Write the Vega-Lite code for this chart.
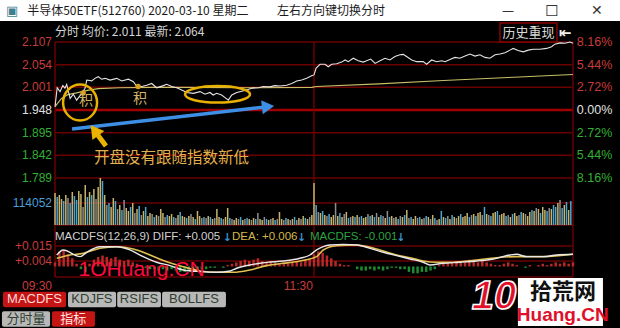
{
  "$schema": "https://vega.github.io/schema/vega-lite/v6.json",
  "background": "#000000",
  "padding": 0,
  "spacing": 0,
  "bounds": "flush",
  "config": {"view": {"stroke": null}, "text": {"font": "Liberation Sans"}},
  "resolve": {"scale": {"x": "independent", "y": "independent", "color": "independent"}},
  "datasets": {
    "levels": [
      {"p": 2.107, "lp": "2.107", "pct": "8.16%", "s": "up"},
      {"p": 2.054, "lp": "2.054", "pct": "5.44%", "s": "up"},
      {"p": 2.001, "lp": "2.001", "pct": "2.72%", "s": "up"},
      {"p": 1.948, "lp": "1.948", "pct": "0.00%", "s": "flat"},
      {"p": 1.895, "lp": "1.895", "pct": "2.72%", "s": "down"},
      {"p": 1.842, "lp": "1.842", "pct": "5.44%", "s": "down"},
      {"p": 1.789, "lp": "1.789", "pct": "8.16%", "s": "down"}
    ],
    "price": [
      {"m": 0, "p": 1.956}, {"m": 1, "p": 2.0}, {"m": 2.3, "p": 1.991}, {"m": 3.6, "p": 2.005}, {"m": 4.6, "p": 1.999},
      {"m": 5.4, "p": 2.008}, {"m": 7, "p": 1.975}, {"m": 8.5, "p": 1.985}, {"m": 10, "p": 1.971}, {"m": 12.4, "p": 1.987},
      {"m": 13.9, "p": 1.999}, {"m": 14.7, "p": 2.018}, {"m": 17, "p": 2.016}, {"m": 18.5, "p": 2.022}, {"m": 20, "p": 2.026},
      {"m": 21.6, "p": 2.02}, {"m": 23.2, "p": 2.022}, {"m": 25.5, "p": 2.018}, {"m": 28.6, "p": 2.022}, {"m": 30.9, "p": 2.016},
      {"m": 34, "p": 2.02}, {"m": 36.3, "p": 2.014}, {"m": 37.9, "p": 2.003}, {"m": 40.2, "p": 2.003}, {"m": 42.5, "p": 2.006},
      {"m": 44.8, "p": 2.01}, {"m": 47.1, "p": 2.0}, {"m": 50.2, "p": 2.005}, {"m": 51.7, "p": 2.008}, {"m": 54.1, "p": 2.003},
      {"m": 56.4, "p": 2.0}, {"m": 58.7, "p": 1.995}, {"m": 61, "p": 1.989}, {"m": 64.1, "p": 1.987}, {"m": 67.2, "p": 1.991},
      {"m": 69.5, "p": 1.985}, {"m": 71.8, "p": 1.989}, {"m": 73.3, "p": 1.983}, {"m": 74.9, "p": 1.987}, {"m": 77.2, "p": 1.983},
      {"m": 78.8, "p": 1.977}, {"m": 80.3, "p": 1.971}, {"m": 81.9, "p": 1.983}, {"m": 84.2, "p": 1.989}, {"m": 86.5, "p": 1.992},
      {"m": 88.8, "p": 1.995}, {"m": 91.1, "p": 1.999}, {"m": 94.2, "p": 2.0}, {"m": 96.5, "p": 2.003}, {"m": 99.6, "p": 2.002},
      {"m": 101.9, "p": 2.005}, {"m": 104.2, "p": 2.004}, {"m": 107.3, "p": 2.006}, {"m": 109.7, "p": 2.01}, {"m": 112, "p": 2.016},
      {"m": 114.3, "p": 2.018}, {"m": 116.6, "p": 2.022}, {"m": 118.9, "p": 2.028}, {"m": 120, "p": 2.03}, {"m": 121, "p": 2.046},
      {"m": 122.8, "p": 2.055}, {"m": 125.1, "p": 2.055}, {"m": 126.6, "p": 2.049}, {"m": 128.2, "p": 2.055}, {"m": 130.5, "p": 2.056},
      {"m": 132.8, "p": 2.06}, {"m": 134.4, "p": 2.065}, {"m": 135.9, "p": 2.061}, {"m": 138.2, "p": 2.069}, {"m": 140.5, "p": 2.063},
      {"m": 142.8, "p": 2.06}, {"m": 144.4, "p": 2.063}, {"m": 146.3, "p": 2.067}, {"m": 148.3, "p": 2.057}, {"m": 150.6, "p": 2.063},
      {"m": 152.9, "p": 2.069}, {"m": 155.2, "p": 2.065}, {"m": 157.5, "p": 2.073}, {"m": 159.8, "p": 2.077}, {"m": 161.4, "p": 2.078},
      {"m": 162.9, "p": 2.073}, {"m": 165.3, "p": 2.065}, {"m": 167.6, "p": 2.061}, {"m": 170.6, "p": 2.061}, {"m": 172.2, "p": 2.055},
      {"m": 174.5, "p": 2.065}, {"m": 176.8, "p": 2.061}, {"m": 179.2, "p": 2.063}, {"m": 180.7, "p": 2.061}, {"m": 183, "p": 2.066},
      {"m": 185.3, "p": 2.071}, {"m": 187.6, "p": 2.069}, {"m": 190, "p": 2.074}, {"m": 192.3, "p": 2.079}, {"m": 194.6, "p": 2.074},
      {"m": 196.9, "p": 2.077}, {"m": 199.2, "p": 2.071}, {"m": 201.5, "p": 2.069}, {"m": 203.9, "p": 2.077}, {"m": 206.2, "p": 2.079},
      {"m": 208.5, "p": 2.082}, {"m": 210.8, "p": 2.088}, {"m": 212.3, "p": 2.092}, {"m": 214.6, "p": 2.087}, {"m": 217, "p": 2.084},
      {"m": 219.3, "p": 2.088}, {"m": 221.6, "p": 2.09}, {"m": 224.7, "p": 2.09}, {"m": 227.8, "p": 2.092}, {"m": 230.1, "p": 2.096},
      {"m": 231.6, "p": 2.102}, {"m": 234, "p": 2.105}, {"m": 236.3, "p": 2.104}, {"m": 238.6, "p": 2.107}, {"m": 240, "p": 2.104}
    ],
    "avg": [
      {"m": 0, "a": 1.956}, {"m": 3, "a": 1.975}, {"m": 6, "a": 1.984}, {"m": 10, "a": 1.988}, {"m": 15, "a": 1.994},
      {"m": 20, "a": 1.998}, {"m": 30, "a": 2.0}, {"m": 45, "a": 2.001}, {"m": 60, "a": 2.001}, {"m": 90, "a": 2.0},
      {"m": 119, "a": 2.001}, {"m": 121, "a": 2.003}, {"m": 150, "a": 2.009}, {"m": 180, "a": 2.017}, {"m": 210, "a": 2.024},
      {"m": 240, "a": 2.031}
    ],
    "vol": [
      {"m": 0, "v": 165900, "d": "u"}, {"m": 1, "v": 145200, "d": "b"}, {"m": 2, "v": 155500, "d": "u"}, {"m": 3, "v": 134800, "d": "u"},
      {"m": 4, "v": 124400, "d": "b"}, {"m": 5, "v": 155500, "d": "u"}, {"m": 6, "v": 140000, "d": "g"}, {"m": 7, "v": 114100, "d": "b"},
      {"m": 8, "v": 171100, "d": "u"}, {"m": 9, "v": 150300, "d": "b"}, {"m": 10, "v": 129600, "d": "b"}, {"m": 11, "v": 176300, "d": "u"},
      {"m": 12, "v": 160700, "d": "u"}, {"m": 13, "v": 93300, "d": "g"}, {"m": 14, "v": 207400, "d": "u"}, {"m": 15, "v": 145200, "d": "b"},
      {"m": 16, "v": 171100, "d": "u"}, {"m": 17, "v": 155500, "d": "b"}, {"m": 18, "v": 186600, "d": "u"}, {"m": 19, "v": 134800, "d": "g"},
      {"m": 20, "v": 197000, "d": "u"}, {"m": 21, "v": 243600, "d": "u"}, {"m": 22, "v": 228100, "d": "b"}, {"m": 23, "v": 155500, "d": "u"},
      {"m": 24, "v": 103700, "d": "g"}, {"m": 25, "v": 114100, "d": "b"}, {"m": 26, "v": 93300, "d": "u"}, {"m": 27, "v": 140000, "d": "u"},
      {"m": 28, "v": 124400, "d": "b"}, {"m": 29, "v": 82900, "d": "g"}, {"m": 30, "v": 103700, "d": "u"}, {"m": 31, "v": 77800, "d": "b"},
      {"m": 32, "v": 129600, "d": "g"}, {"m": 33, "v": 88100, "d": "u"}, {"m": 34, "v": 72600, "d": "u"}, {"m": 35, "v": 93300, "d": "b"},
      {"m": 36, "v": 114100, "d": "u"}, {"m": 37, "v": 62200, "d": "g"}, {"m": 38, "v": 82900, "d": "u"}, {"m": 39, "v": 98500, "d": "b"},
      {"m": 40, "v": 51800, "d": "g"}, {"m": 41, "v": 72600, "d": "u"}, {"m": 42, "v": 93300, "d": "b"}, {"m": 43, "v": 46700, "d": "u"},
      {"m": 44, "v": 62200, "d": "u"}, {"m": 45, "v": 57000, "d": "g"}, {"m": 46, "v": 41500, "d": "b"}, {"m": 47, "v": 51800, "d": "u"},
      {"m": 48, "v": 46700, "d": "g"}, {"m": 49, "v": 82900, "d": "u"}, {"m": 50, "v": 62200, "d": "u"}, {"m": 51, "v": 41500, "d": "g"},
      {"m": 52, "v": 51800, "d": "b"}, {"m": 53, "v": 46700, "d": "u"}, {"m": 54, "v": 57000, "d": "u"}, {"m": 55, "v": 41500, "d": "b"},
      {"m": 56, "v": 36300, "d": "g"}, {"m": 57, "v": 51800, "d": "u"}, {"m": 58, "v": 67400, "d": "b"}, {"m": 59, "v": 46700, "d": "u"},
      {"m": 60, "v": 41500, "d": "u"}, {"m": 61, "v": 36300, "d": "b"}, {"m": 62, "v": 46700, "d": "u"}, {"m": 63, "v": 57000, "d": "g"},
      {"m": 64, "v": 41500, "d": "u"}, {"m": 65, "v": 31100, "d": "b"}, {"m": 66, "v": 72600, "d": "u"}, {"m": 67, "v": 46700, "d": "u"},
      {"m": 68, "v": 36300, "d": "g"}, {"m": 69, "v": 41500, "d": "b"}, {"m": 70, "v": 36300, "d": "g"}, {"m": 71, "v": 46700, "d": "u"},
      {"m": 72, "v": 41500, "d": "b"}, {"m": 73, "v": 31100, "d": "u"}, {"m": 74, "v": 36300, "d": "g"}, {"m": 75, "v": 82900, "d": "u"},
      {"m": 76, "v": 41500, "d": "u"}, {"m": 77, "v": 36300, "d": "b"}, {"m": 78, "v": 31100, "d": "g"}, {"m": 79, "v": 41500, "d": "u"},
      {"m": 80, "v": 88100, "d": "u"}, {"m": 81, "v": 36300, "d": "b"}, {"m": 82, "v": 31100, "d": "g"}, {"m": 83, "v": 25900, "d": "u"},
      {"m": 84, "v": 36300, "d": "u"}, {"m": 85, "v": 31100, "d": "g"}, {"m": 86, "v": 41500, "d": "b"}, {"m": 87, "v": 25900, "d": "u"},
      {"m": 88, "v": 31100, "d": "g"}, {"m": 89, "v": 36300, "d": "b"}, {"m": 90, "v": 31100, "d": "u"}, {"m": 91, "v": 25900, "d": "g"},
      {"m": 92, "v": 36300, "d": "u"}, {"m": 93, "v": 31100, "d": "b"}, {"m": 94, "v": 62200, "d": "g"}, {"m": 95, "v": 31100, "d": "u"},
      {"m": 96, "v": 25900, "d": "u"}, {"m": 97, "v": 41500, "d": "g"}, {"m": 98, "v": 31100, "d": "b"}, {"m": 99, "v": 25900, "d": "u"},
      {"m": 100, "v": 31100, "d": "g"}, {"m": 101, "v": 36300, "d": "u"}, {"m": 102, "v": 25900, "d": "b"}, {"m": 103, "v": 31100, "d": "g"},
      {"m": 104, "v": 67400, "d": "u"}, {"m": 105, "v": 31100, "d": "u"}, {"m": 106, "v": 25900, "d": "g"}, {"m": 107, "v": 36300, "d": "b"},
      {"m": 108, "v": 31100, "d": "u"}, {"m": 109, "v": 25900, "d": "g"}, {"m": 110, "v": 31100, "d": "u"}, {"m": 111, "v": 41500, "d": "b"},
      {"m": 112, "v": 25900, "d": "g"}, {"m": 113, "v": 36300, "d": "u"}, {"m": 114, "v": 31100, "d": "g"}, {"m": 115, "v": 46700, "d": "u"},
      {"m": 116, "v": 36300, "d": "b"}, {"m": 117, "v": 31100, "d": "u"}, {"m": 118, "v": 41500, "d": "g"}, {"m": 119, "v": 51800, "d": "u"},
      {"m": 120, "v": 217700, "d": "u"}, {"m": 121, "v": 103700, "d": "b"}, {"m": 122, "v": 67400, "d": "g"}, {"m": 123, "v": 62200, "d": "u"},
      {"m": 124, "v": 72600, "d": "b"}, {"m": 125, "v": 51800, "d": "u"}, {"m": 126, "v": 46700, "d": "g"}, {"m": 127, "v": 57000, "d": "b"},
      {"m": 128, "v": 41500, "d": "u"}, {"m": 129, "v": 51800, "d": "u"}, {"m": 130, "v": 114100, "d": "g"}, {"m": 131, "v": 46700, "d": "u"},
      {"m": 132, "v": 62200, "d": "b"}, {"m": 133, "v": 41500, "d": "u"}, {"m": 134, "v": 57000, "d": "g"}, {"m": 135, "v": 67400, "d": "u"},
      {"m": 136, "v": 36300, "d": "b"}, {"m": 137, "v": 41500, "d": "g"}, {"m": 138, "v": 46700, "d": "u"}, {"m": 139, "v": 41500, "d": "b"},
      {"m": 140, "v": 51800, "d": "u"}, {"m": 141, "v": 41500, "d": "g"}, {"m": 142, "v": 46700, "d": "b"}, {"m": 143, "v": 36300, "d": "u"},
      {"m": 144, "v": 41500, "d": "u"}, {"m": 145, "v": 57000, "d": "g"}, {"m": 146, "v": 46700, "d": "b"}, {"m": 147, "v": 51800, "d": "u"},
      {"m": 148, "v": 41500, "d": "b"}, {"m": 149, "v": 62200, "d": "g"}, {"m": 150, "v": 41500, "d": "u"}, {"m": 151, "v": 51800, "d": "b"},
      {"m": 152, "v": 46700, "d": "g"}, {"m": 153, "v": 36300, "d": "u"}, {"m": 154, "v": 72600, "d": "g"}, {"m": 155, "v": 41500, "d": "b"},
      {"m": 156, "v": 46700, "d": "u"}, {"m": 157, "v": 36300, "d": "g"}, {"m": 158, "v": 41500, "d": "u"}, {"m": 159, "v": 31100, "d": "b"},
      {"m": 160, "v": 46700, "d": "g"}, {"m": 161, "v": 41500, "d": "u"}, {"m": 162, "v": 51800, "d": "b"}, {"m": 163, "v": 77800, "d": "u"},
      {"m": 164, "v": 36300, "d": "g"}, {"m": 165, "v": 41500, "d": "b"}, {"m": 166, "v": 31100, "d": "u"}, {"m": 167, "v": 46700, "d": "u"},
      {"m": 168, "v": 36300, "d": "g"}, {"m": 169, "v": 41500, "d": "b"}, {"m": 170, "v": 31100, "d": "u"}, {"m": 171, "v": 36300, "d": "g"},
      {"m": 172, "v": 46700, "d": "b"}, {"m": 173, "v": 41500, "d": "u"}, {"m": 174, "v": 31100, "d": "g"}, {"m": 175, "v": 51800, "d": "u"},
      {"m": 176, "v": 36300, "d": "b"}, {"m": 177, "v": 25900, "d": "g"}, {"m": 178, "v": 31100, "d": "u"}, {"m": 179, "v": 72600, "d": "b"},
      {"m": 180, "v": 41500, "d": "u"}, {"m": 181, "v": 36300, "d": "b"}, {"m": 182, "v": 46700, "d": "g"}, {"m": 183, "v": 31100, "d": "u"},
      {"m": 184, "v": 51800, "d": "b"}, {"m": 185, "v": 41500, "d": "u"}, {"m": 186, "v": 36300, "d": "g"}, {"m": 187, "v": 46700, "d": "u"},
      {"m": 188, "v": 57000, "d": "b"}, {"m": 189, "v": 41500, "d": "u"}, {"m": 190, "v": 46700, "d": "u"}, {"m": 191, "v": 62200, "d": "u"},
      {"m": 192, "v": 41500, "d": "b"}, {"m": 193, "v": 51800, "d": "g"}, {"m": 194, "v": 57000, "d": "u"}, {"m": 195, "v": 46700, "d": "b"},
      {"m": 196, "v": 62200, "d": "u"}, {"m": 197, "v": 67400, "d": "u"}, {"m": 198, "v": 51800, "d": "g"}, {"m": 199, "v": 93300, "d": "b"},
      {"m": 200, "v": 57000, "d": "u"}, {"m": 201, "v": 51800, "d": "g"}, {"m": 202, "v": 46700, "d": "b"}, {"m": 203, "v": 62200, "d": "u"},
      {"m": 204, "v": 67400, "d": "u"}, {"m": 205, "v": 72600, "d": "b"}, {"m": 206, "v": 51800, "d": "g"}, {"m": 207, "v": 57000, "d": "u"},
      {"m": 208, "v": 62200, "d": "u"}, {"m": 209, "v": 46700, "d": "b"}, {"m": 210, "v": 51800, "d": "g"}, {"m": 211, "v": 41500, "d": "u"},
      {"m": 212, "v": 57000, "d": "b"}, {"m": 213, "v": 62200, "d": "u"}, {"m": 214, "v": 46700, "d": "u"}, {"m": 215, "v": 51800, "d": "g"},
      {"m": 216, "v": 67400, "d": "b"}, {"m": 217, "v": 62200, "d": "u"}, {"m": 218, "v": 57000, "d": "g"}, {"m": 219, "v": 46700, "d": "u"},
      {"m": 220, "v": 67400, "d": "u"}, {"m": 221, "v": 77800, "d": "b"}, {"m": 222, "v": 72600, "d": "u"}, {"m": 223, "v": 88100, "d": "g"},
      {"m": 224, "v": 82900, "d": "u"}, {"m": 225, "v": 62200, "d": "b"}, {"m": 226, "v": 93300, "d": "u"}, {"m": 227, "v": 77800, "d": "u"},
      {"m": 228, "v": 72600, "d": "b"}, {"m": 229, "v": 88100, "d": "g"}, {"m": 230, "v": 82900, "d": "u"}, {"m": 231, "v": 103700, "d": "b"},
      {"m": 232, "v": 93300, "d": "b"}, {"m": 233, "v": 114100, "d": "u"}, {"m": 234, "v": 129600, "d": "g"}, {"m": 235, "v": 88100, "d": "b"},
      {"m": 236, "v": 103700, "d": "u"}, {"m": 237, "v": 119200, "d": "b"}, {"m": 238, "v": 77800, "d": "u"}, {"m": 239, "v": 124400, "d": "b"}
    ],
    "hist": [
      {"m": 0, "h": 0.003}, {"m": 2, "h": 0.011}, {"m": 4, "h": 0.012}, {"m": 6, "h": 0.009}, {"m": 8, "h": 0.006}, {"m": 10, "h": 0.002},
      {"m": 12, "h": -0.002}, {"m": 14, "h": -0.004}, {"m": 16, "h": 0.002}, {"m": 18, "h": 0.005}, {"m": 20, "h": 0.007}, {"m": 22, "h": 0.008},
      {"m": 24, "h": 0.007}, {"m": 26, "h": 0.006}, {"m": 28, "h": 0.007}, {"m": 30, "h": 0.005}, {"m": 32, "h": 0.004}, {"m": 34, "h": 0.005},
      {"m": 36, "h": 0.003}, {"m": 38, "h": 0.002}, {"m": 40, "h": 0.001}, {"m": 42, "h": -0.001}, {"m": 44, "h": -0.002}, {"m": 46, "h": -0.002},
      {"m": 48, "h": -0.003}, {"m": 50, "h": -0.002}, {"m": 52, "h": -0.003}, {"m": 54, "h": -0.002}, {"m": 56, "h": -0.003}, {"m": 58, "h": -0.004},
      {"m": 60, "h": -0.004}, {"m": 62, "h": -0.003}, {"m": 64, "h": -0.004}, {"m": 66, "h": -0.003}, {"m": 68, "h": -0.002}, {"m": 70, "h": -0.002},
      {"m": 72, "h": -0.001}, {"m": 74, "h": -0.001}, {"m": 76, "h": 0}, {"m": 78, "h": -0.001}, {"m": 80, "h": 0.001}, {"m": 82, "h": 0.002},
      {"m": 84, "h": 0.003}, {"m": 86, "h": 0.004}, {"m": 88, "h": 0.005}, {"m": 90, "h": 0.004}, {"m": 92, "h": 0.005}, {"m": 94, "h": 0.006},
      {"m": 96, "h": 0.004}, {"m": 98, "h": 0.003}, {"m": 100, "h": 0.004}, {"m": 102, "h": 0.003}, {"m": 104, "h": 0.002}, {"m": 106, "h": 0.003},
      {"m": 108, "h": 0.002}, {"m": 110, "h": 0.003}, {"m": 112, "h": 0.004}, {"m": 114, "h": 0.003}, {"m": 116, "h": 0.005}, {"m": 118, "h": 0.006},
      {"m": 120, "h": 0.009}, {"m": 122, "h": 0.011}, {"m": 124, "h": 0.01}, {"m": 126, "h": 0.008}, {"m": 128, "h": 0.006}, {"m": 130, "h": 0.004},
      {"m": 132, "h": 0.002}, {"m": 134, "h": 0.001}, {"m": 136, "h": 0.001}, {"m": 138, "h": 0}, {"m": 140, "h": -0.002}, {"m": 142, "h": -0.003},
      {"m": 144, "h": -0.003}, {"m": 146, "h": -0.002}, {"m": 148, "h": -0.003}, {"m": 150, "h": -0.002}, {"m": 152, "h": -0.003}, {"m": 154, "h": -0.002},
      {"m": 156, "h": -0.001}, {"m": 158, "h": -0.001}, {"m": 160, "h": -0.002}, {"m": 162, "h": -0.002}, {"m": 164, "h": -0.004}, {"m": 166, "h": -0.005},
      {"m": 168, "h": -0.005}, {"m": 170, "h": -0.004}, {"m": 172, "h": -0.004}, {"m": 174, "h": -0.003}, {"m": 176, "h": -0.002}, {"m": 178, "h": 0.001},
      {"m": 180, "h": 0.002}, {"m": 182, "h": 0.003}, {"m": 184, "h": 0.003}, {"m": 186, "h": 0.004}, {"m": 188, "h": 0.003}, {"m": 190, "h": 0.004},
      {"m": 192, "h": 0.005}, {"m": 194, "h": 0.004}, {"m": 196, "h": 0.003}, {"m": 198, "h": 0.004}, {"m": 200, "h": 0.003}, {"m": 202, "h": 0.002},
      {"m": 204, "h": 0.001}, {"m": 206, "h": 0.001}, {"m": 208, "h": 0.002}, {"m": 210, "h": 0.003}, {"m": 212, "h": 0.002}, {"m": 214, "h": 0.001},
      {"m": 216, "h": 0}, {"m": 218, "h": -0.001}, {"m": 220, "h": 0.001}, {"m": 222, "h": 0}, {"m": 224, "h": 0.001}, {"m": 226, "h": 0.002},
      {"m": 228, "h": 0.001}, {"m": 230, "h": 0.002}, {"m": 232, "h": 0.003}, {"m": 234, "h": 0.002}, {"m": 236, "h": 0.003}, {"m": 238, "h": 0.002},
      {"m": 240, "h": 0.003}
    ],
    "diff": [
      {"m": 0.8, "v": 0.0084}, {"m": 3.8, "v": 0.0121}, {"m": 11.6, "v": 0.0072}, {"m": 14.7, "v": 0.0104}, {"m": 20.8, "v": 0.0145},
      {"m": 28.6, "v": 0.0145}, {"m": 34.7, "v": 0.0121}, {"m": 40.9, "v": 0.0072}, {"m": 47.1, "v": 0.0031}, {"m": 53.3, "v": 0.0006},
      {"m": 59.4, "v": -0.0026}, {"m": 67.2, "v": -0.0038}, {"m": 74.9, "v": -0.0043}, {"m": 81.1, "v": -0.0033}, {"m": 84.2, "v": -0.0013},
      {"m": 90.3, "v": 0.0011}, {"m": 98.1, "v": 0.003}, {"m": 105.8, "v": 0.004}, {"m": 113.5, "v": 0.006}, {"m": 118.1, "v": 0.0084},
      {"m": 121.2, "v": 0.0121}, {"m": 124.3, "v": 0.0145}, {"m": 127.4, "v": 0.0157}, {"m": 133.6, "v": 0.0162}, {"m": 139.8, "v": 0.0157},
      {"m": 145.9, "v": 0.0133}, {"m": 152.1, "v": 0.0104}, {"m": 158.3, "v": 0.0079}, {"m": 164.5, "v": 0.0055}, {"m": 170.6, "v": 0.0031},
      {"m": 173.7, "v": 0.0011}, {"m": 179.9, "v": 0.0023}, {"m": 187.6, "v": 0.0031}, {"m": 195.4, "v": 0.004}, {"m": 203.1, "v": 0.0055},
      {"m": 210.8, "v": 0.0084}, {"m": 213.9, "v": 0.0089}, {"m": 218.5, "v": 0.0072}, {"m": 226.2, "v": 0.0072}, {"m": 232.4, "v": 0.0084},
      {"m": 240, "v": 0.0089}
    ],
    "dea": [
      {"m": 0.8, "v": 0.006}, {"m": 6.9, "v": 0.0084}, {"m": 13.1, "v": 0.0096}, {"m": 20.8, "v": 0.0133}, {"m": 28.6, "v": 0.0145},
      {"m": 36.3, "v": 0.0128}, {"m": 44, "v": 0.0084}, {"m": 51.7, "v": 0.0035}, {"m": 59.4, "v": -0.0002}, {"m": 67.2, "v": -0.0033},
      {"m": 74.9, "v": -0.0043}, {"m": 82.6, "v": -0.0043}, {"m": 90.3, "v": -0.0026}, {"m": 98.1, "v": 0.0006}, {"m": 105.8, "v": 0.0023},
      {"m": 113.5, "v": 0.004}, {"m": 121.2, "v": 0.0072}, {"m": 124.3, "v": 0.0121}, {"m": 130.5, "v": 0.0152}, {"m": 139.8, "v": 0.0157},
      {"m": 149, "v": 0.0128}, {"m": 158.3, "v": 0.0084}, {"m": 164.5, "v": 0.0064}, {"m": 170.6, "v": 0.004}, {"m": 176.8, "v": 0.0031},
      {"m": 184.5, "v": 0.0031}, {"m": 195.4, "v": 0.0047}, {"m": 204.6, "v": 0.0064}, {"m": 213.9, "v": 0.0072}, {"m": 226.2, "v": 0.0072},
      {"m": 240, "v": 0.0089}
    ]
  },
  "vconcat": [
    {
      "width": 620, "height": 21,
      "view": {"fill": "#ffffff", "stroke": null},
      "layer": [
        {"data": {"values": [{"t": "▣"}]}, "mark": {"type": "text", "fontSize": 13, "color": "#3f7f8f", "font": "DejaVu Sans"},
         "encoding": {"x": {"datum": -19.9, "type": "quantitative", "scale": {"domain": [-25.5, 261.8]}, "axis": null}, "text": {"field": "t"}}},
        {"data": {"values": [{"t": "半导体50ETF(512760) 2020-03-10 星期二"}]}, "mark": {"type": "text", "align": "left", "fontSize": 12, "color": "#1a1a1a", "font": "Noto Sans CJK SC"},
         "encoding": {"x": {"datum": -12.9, "type": "quantitative", "scale": {"domain": [-25.5, 261.8]}, "axis": null}, "text": {"field": "t"}}},
        {"data": {"values": [{"t": "左右方向键切换分时"}]}, "mark": {"type": "text", "align": "left", "fontSize": 12, "color": "#1a1a1a", "font": "Noto Sans CJK SC"},
         "encoding": {"x": {"datum": 102.9, "type": "quantitative", "scale": {"domain": [-25.5, 261.8]}, "axis": null}, "text": {"field": "t"}}},
        {"data": {"values": [{"t": "—"}]}, "mark": {"type": "text", "fontSize": 12, "color": "#333333", "font": "DejaVu Sans"},
         "encoding": {"x": {"datum": 209.9, "type": "quantitative", "scale": {"domain": [-25.5, 261.8]}, "axis": null}, "text": {"field": "t"}}},
        {"data": {"values": [{"t": "☐"}]}, "mark": {"type": "text", "fontSize": 15, "color": "#333333", "font": "DejaVu Sans"},
         "encoding": {"x": {"datum": 230.3, "type": "quantitative", "scale": {"domain": [-25.5, 261.8]}, "axis": null}, "text": {"field": "t"}}},
        {"data": {"values": [{"t": "✕"}]}, "mark": {"type": "text", "fontSize": 14, "color": "#333333", "font": "DejaVu Sans"},
         "encoding": {"x": {"datum": 251.1, "type": "quantitative", "scale": {"domain": [-25.5, 261.8]}, "axis": null}, "text": {"field": "t"}}}
      ]
    },
    {
      "width": 620, "height": 157,
      "layer": [
        {"data": {"name": "levels"}, "mark": {"type": "rule"},
         "encoding": {
           "y": {"field": "p", "type": "quantitative", "scale": {"domain": [1.789, 2.1561]}, "axis": null},
           "x": {"datum": 0, "type": "quantitative", "scale": {"domain": [-25.5, 261.8]}, "axis": null},
           "x2": {"datum": 240},
           "color": {"condition": {"test": "datum.s === 'flat'", "value": "#a00000"}, "value": "#6a0000"},
           "strokeWidth": {"condition": {"test": "datum.s === 'flat'", "value": 2.5}, "value": 1.5}
         }},
        {"data": {"values": [{"m": 0}, {"m": 120}, {"m": 240}]}, "mark": {"type": "rule", "color": "#6a0000", "strokeWidth": 1.5},
         "encoding": {
           "x": {"field": "m", "type": "quantitative", "scale": {"domain": [-25.5, 261.8]}, "axis": null},
           "y": {"datum": 2.107, "type": "quantitative", "scale": {"domain": [1.789, 2.1561]}, "axis": null},
           "y2": {"datum": 1.789}
         }},
        {"data": {"values": [{"t": "历史重现"}]}, "mark": {"type": "rect", "fill": "#000000", "stroke": "#8c0000", "strokeWidth": 1.5},
         "encoding": {
           "x": {"datum": 206.2, "type": "quantitative", "scale": {"domain": [-25.5, 261.8]}, "axis": null}, "x2": {"datum": 232.6},
           "y": {"datum": 2.1514, "type": "quantitative", "scale": {"domain": [1.789, 2.1561]}, "axis": null}, "y2": {"datum": 2.107}
         }},
        {"data": {"values": [{"t": "历史重现"}]}, "mark": {"type": "text", "fontSize": 13, "color": "#d8d8d8", "font": "Noto Sans CJK SC"},
         "encoding": {
           "x": {"datum": 219.4, "type": "quantitative", "scale": {"domain": [-25.5, 261.8]}, "axis": null},
           "y": {"datum": 2.129, "type": "quantitative", "scale": {"domain": [1.789, 2.1561]}, "axis": null},
           "text": {"field": "t"}
         }},
        {"data": {"values": [{"t": "⇤"}]}, "mark": {"type": "text", "fontSize": 15, "fontWeight": "bold", "color": "#f0f0f0", "font": "DejaVu Sans"},
         "encoding": {
           "x": {"datum": 236.3, "type": "quantitative", "scale": {"domain": [-25.5, 261.8]}, "axis": null},
           "y": {"datum": 2.129, "type": "quantitative", "scale": {"domain": [1.789, 2.1561]}, "axis": null},
           "text": {"field": "t"}
         }},
        {"data": {"name": "avg"}, "mark": {"type": "line", "color": "#c8c068", "strokeWidth": 1.2},
         "encoding": {
           "x": {"field": "m", "type": "quantitative", "scale": {"domain": [-25.5, 261.8]}, "axis": null},
           "y": {"field": "a", "type": "quantitative", "scale": {"domain": [1.789, 2.1561]}, "axis": null}
         }},
        {"data": {"name": "price"}, "mark": {"type": "line", "color": "#e4e4e4", "strokeWidth": 1.1},
         "encoding": {
           "x": {"field": "m", "type": "quantitative", "scale": {"domain": [-25.5, 261.8]}, "axis": null},
           "y": {"field": "p", "type": "quantitative", "scale": {"domain": [1.789, 2.1561]}, "axis": null}
         }},
        {"data": {"name": "levels"}, "mark": {"type": "text", "align": "right", "fontSize": 12},
         "encoding": {
           "x": {"datum": -1.4, "type": "quantitative", "scale": {"domain": [-25.5, 261.8]}, "axis": null},
           "y": {"field": "p", "type": "quantitative", "scale": {"domain": [1.789, 2.1561]}, "axis": null},
           "text": {"field": "lp"},
           "color": {"field": "s", "type": "nominal", "scale": {"domain": ["up", "flat", "down"], "range": ["#c83c3c", "#e0e0e0", "#33b033"]}, "legend": null}
         }},
        {"data": {"name": "levels"}, "mark": {"type": "text", "align": "left", "fontSize": 12.5},
         "encoding": {
           "x": {"datum": 241.8, "type": "quantitative", "scale": {"domain": [-25.5, 261.8]}, "axis": null},
           "y": {"field": "p", "type": "quantitative", "scale": {"domain": [1.789, 2.1561]}, "axis": null},
           "text": {"field": "pct"},
           "color": {"field": "s", "type": "nominal", "scale": {"domain": ["up", "flat", "down"], "range": ["#c83c3c", "#e0e0e0", "#33b033"]}, "legend": null}
         }},
        {"data": {"values": [{"t": "分时 均价: 2.011 最新: 2.064"}]}, "mark": {"type": "text", "align": "left", "fontSize": 12, "color": "#d4d4d4", "font": "Noto Sans CJK SC"},
         "encoding": {
           "x": {"datum": 0, "type": "quantitative", "scale": {"domain": [-25.5, 261.8]}, "axis": null},
           "y": {"datum": 2.1304, "type": "quantitative", "scale": {"domain": [1.789, 2.1561]}, "axis": null},
           "text": {"field": "t"}
         }},
        {"data": {"values": [{"t": "ring"}]}, "mark": {"type": "point", "shape": "M-1,0A1,1.06,0,1,1,1,0A1,1.06,0,1,1,-1,0Z", "filled": false, "color": "#e8b000", "strokeWidth": 2.5, "size": 1156, "opacity": 1},
         "encoding": {
           "x": {"datum": 11.6, "type": "quantitative", "scale": {"domain": [-25.5, 261.8]}, "axis": null},
           "y": {"datum": 1.9655, "type": "quantitative", "scale": {"domain": [1.789, 2.1561]}, "axis": null}
         }},
        {"data": {"values": [{"t": "ring"}]}, "mark": {"type": "point", "shape": "M-1,0A1,0.255,0,1,1,1,0A1,0.255,0,1,1,-1,0Z", "filled": false, "color": "#e8b000", "strokeWidth": 2.5, "size": 4225, "opacity": 1},
         "encoding": {
           "x": {"datum": 75.3, "type": "quantitative", "scale": {"domain": [-25.5, 261.8]}, "axis": null},
           "y": {"datum": 1.9847, "type": "quantitative", "scale": {"domain": [1.789, 2.1561]}, "axis": null}
         }},
        {"data": {"values": [{"m": 13, "p": 1.988}, {"m": 38.5, "p": 2.003}]}, "mark": {"type": "point", "filled": true, "color": "#d9a020", "size": 30, "opacity": 1},
         "encoding": {
           "x": {"field": "m", "type": "quantitative", "scale": {"domain": [-25.5, 261.8]}, "axis": null},
           "y": {"field": "p", "type": "quantitative", "scale": {"domain": [1.789, 2.1561]}, "axis": null}
         }},
        {"data": {"values": [{"t": "积", "m": 14.4, "p": 1.968}, {"t": "积", "m": 39.4, "p": 1.9726}]}, "mark": {"type": "text", "fontSize": 14, "color": "#d2b464", "font": "Noto Sans CJK SC"},
         "encoding": {
           "x": {"field": "m", "type": "quantitative", "scale": {"domain": [-25.5, 261.8]}, "axis": null},
           "y": {"field": "p", "type": "quantitative", "scale": {"domain": [1.789, 2.1561]}, "axis": null},
           "text": {"field": "t"}
         }},
        {"data": {"values": [{"t": "arrow"}]}, "mark": {"type": "rule", "color": "#3d8fe6", "strokeWidth": 3.5},
         "encoding": {
           "x": {"datum": 7.9, "type": "quantitative", "scale": {"domain": [-25.5, 261.8]}, "axis": null},
           "y": {"datum": 1.9036, "type": "quantitative", "scale": {"domain": [1.789, 2.1561]}, "axis": null},
           "x2": {"datum": 96.4}, "y2": {"datum": 1.9546}
         }},
        {"data": {"values": [{"t": "arrow"}]}, "mark": {"type": "point", "shape": "triangle-right", "filled": true, "color": "#3d8fe6", "size": 200, "angle": -6.5, "opacity": 1},
         "encoding": {
           "x": {"datum": 98.7, "type": "quantitative", "scale": {"domain": [-25.5, 261.8]}, "axis": null},
           "y": {"datum": 1.956, "type": "quantitative", "scale": {"domain": [1.789, 2.1561]}, "axis": null}
         }},
        {"data": {"values": [{"t": "arrow"}]}, "mark": {"type": "rule", "color": "#e8b400", "strokeWidth": 5},
         "encoding": {
           "x": {"datum": 23.6, "type": "quantitative", "scale": {"domain": [-25.5, 261.8]}, "axis": null},
           "y": {"datum": 1.8638, "type": "quantitative", "scale": {"domain": [1.789, 2.1561]}, "axis": null},
           "x2": {"datum": 19.2}, "y2": {"datum": 1.8938}
         }},
        {"data": {"values": [{"t": "arrow"}]}, "mark": {"type": "point", "shape": "triangle-up", "filled": true, "color": "#e8b400", "size": 220, "angle": -36.9, "opacity": 1},
         "encoding": {
           "x": {"datum": 18.3, "type": "quantitative", "scale": {"domain": [-25.5, 261.8]}, "axis": null},
           "y": {"datum": 1.9004, "type": "quantitative", "scale": {"domain": [1.789, 2.1561]}, "axis": null}
         }},
        {"data": {"values": [{"t": "开盘没有跟随指数新低"}]}, "mark": {"type": "text", "align": "left", "fontSize": 15.5, "color": "#e2b04c", "font": "Noto Sans CJK SC"},
         "encoding": {
           "x": {"datum": 18.1, "type": "quantitative", "scale": {"domain": [-25.5, 261.8]}, "axis": null},
           "y": {"datum": 1.8358, "type": "quantitative", "scale": {"domain": [1.789, 2.1561]}, "axis": null},
           "text": {"field": "t"}
         }}
      ]
    },
    {
      "width": 620, "height": 50,
      "layer": [
        {"data": {"values": [{"v": 114052}, {"v": 0}]}, "mark": {"type": "rule", "color": "#6a0000", "strokeWidth": 1.5},
         "encoding": {
           "y": {"field": "v", "type": "quantitative", "scale": {"domain": [-15553, 243657]}, "axis": null},
           "x": {"datum": 0, "type": "quantitative", "scale": {"domain": [-25.5, 261.8]}, "axis": null},
           "x2": {"datum": 240}
         }},
        {"data": {"values": [{"m": 0}, {"m": 120}, {"m": 240}]}, "mark": {"type": "rule", "color": "#6a0000", "strokeWidth": 1.5},
         "encoding": {
           "x": {"field": "m", "type": "quantitative", "scale": {"domain": [-25.5, 261.8]}, "axis": null}
         }},
        {"data": {"name": "vol"}, "mark": {"type": "rule", "strokeWidth": 1.5},
         "encoding": {
           "x": {"field": "m", "type": "quantitative", "scale": {"domain": [-25.5, 261.8]}, "axis": null},
           "y": {"field": "v", "type": "quantitative", "scale": {"domain": [-15553, 243657]}, "axis": null},
           "y2": {"datum": 0},
           "color": {"field": "d", "type": "nominal", "scale": {"domain": ["u", "b", "g"], "range": ["#c6b46c", "#4ea6cf", "#8e8e8e"]}, "legend": null}
         }},
        {"data": {"values": [{"v": 114052, "t": "114052"}]}, "mark": {"type": "text", "align": "right", "fontSize": 12, "color": "#4a9fd8"},
         "encoding": {
           "x": {"datum": -1.4, "type": "quantitative", "scale": {"domain": [-25.5, 261.8]}, "axis": null},
           "y": {"field": "v", "type": "quantitative", "scale": {"domain": [-15553, 243657]}, "axis": null},
           "text": {"field": "t"}
         }}
      ]
    },
    {
      "width": 620, "height": 62,
      "layer": [
        {"data": {"values": [{"g": 0.015, "t": "+0.015"}, {"g": 0.004, "t": "+0.004"}, {"g": -0.00773, "t": ""}]}, "mark": {"type": "rule", "color": "#6a0000", "strokeWidth": 1.5},
         "encoding": {
           "y": {"field": "g", "type": "quantitative", "scale": {"domain": [-0.01727, 0.0282]}, "axis": null},
           "x": {"datum": 0, "type": "quantitative", "scale": {"domain": [-25.5, 261.8]}, "axis": null},
           "x2": {"datum": 240}
         }},
        {"data": {"values": [{"m": 0}, {"m": 120}, {"m": 240}]}, "mark": {"type": "rule", "color": "#6a0000", "strokeWidth": 1.5},
         "encoding": {
           "x": {"field": "m", "type": "quantitative", "scale": {"domain": [-25.5, 261.8]}, "axis": null},
           "y": {"datum": 0.0282, "type": "quantitative", "scale": {"domain": [-0.01727, 0.0282]}, "axis": null},
           "y2": {"datum": -0.00773}
         }},
        {"data": {"name": "hist"}, "mark": {"type": "rule", "strokeWidth": 2.5},
         "encoding": {
           "x": {"field": "m", "type": "quantitative", "scale": {"domain": [-25.5, 261.8]}, "axis": null},
           "y": {"field": "h", "type": "quantitative", "scale": {"domain": [-0.01727, 0.0282]}, "axis": null},
           "y2": {"datum": 0},
           "color": {"condition": {"test": "datum.h >= 0", "value": "#b82828"}, "value": "#1e8c30"}
         }},
        {"data": {"name": "dea"}, "mark": {"type": "line", "color": "#e0c050", "strokeWidth": 1.6, "interpolate": "monotone"},
         "encoding": {
           "x": {"field": "m", "type": "quantitative", "scale": {"domain": [-25.5, 261.8]}, "axis": null},
           "y": {"field": "v", "type": "quantitative", "scale": {"domain": [-0.01727, 0.0282]}, "axis": null}
         }},
        {"data": {"name": "diff"}, "mark": {"type": "line", "color": "#e8e8e8", "strokeWidth": 1.4, "interpolate": "monotone"},
         "encoding": {
           "x": {"field": "m", "type": "quantitative", "scale": {"domain": [-25.5, 261.8]}, "axis": null},
           "y": {"field": "v", "type": "quantitative", "scale": {"domain": [-0.01727, 0.0282]}, "axis": null}
         }},
        {"data": {"values": [{"g": 0.015, "t": "+0.015"}, {"g": 0.004, "t": "+0.004"}]}, "mark": {"type": "text", "align": "right", "fontSize": 12, "color": "#c83c3c"},
         "encoding": {
           "x": {"datum": -1.4, "type": "quantitative", "scale": {"domain": [-25.5, 261.8]}, "axis": null},
           "y": {"field": "g", "type": "quantitative", "scale": {"domain": [-0.01727, 0.0282]}, "axis": null},
           "text": {"field": "t"}
         }},
        {"data": {"values": [{"t": "09:30", "m": -1.4}, {"t": "11:30", "m": 119.5}]}, "mark": {"type": "text", "align": "right", "fontSize": 12, "color": "#c83c3c"},
         "encoding": {
           "x": {"field": "m", "type": "quantitative", "scale": {"domain": [-25.5, 261.8]}, "axis": null},
           "y": {"datum": -0.01433, "type": "quantitative", "scale": {"domain": [-0.01727, 0.0282]}, "axis": null},
           "text": {"field": "t"}
         }},
        {"data": {"values": [{"t": "MACDFS(12,26,9) DIFF: +0.005"}]}, "mark": {"type": "text", "align": "left", "fontSize": 11.5, "color": "#d0d0d0"},
         "encoding": {
           "x": {"datum": 0, "type": "quantitative", "scale": {"domain": [-25.5, 261.8]}, "axis": null},
           "y": {"datum": 0.0216, "type": "quantitative", "scale": {"domain": [-0.01727, 0.0282]}, "axis": null},
           "text": {"field": "t"}
         }},
        {"data": {"values": [{"t": "DEA: +0.006"}]}, "mark": {"type": "text", "align": "left", "fontSize": 11.5, "color": "#d4b84a"},
         "encoding": {
           "x": {"datum": 82.0, "type": "quantitative", "scale": {"domain": [-25.5, 261.8]}, "axis": null},
           "y": {"datum": 0.0216, "type": "quantitative", "scale": {"domain": [-0.01727, 0.0282]}, "axis": null},
           "text": {"field": "t"}
         }},
        {"data": {"values": [{"t": "MACDFS: -0.001"}]}, "mark": {"type": "text", "align": "left", "fontSize": 11.5, "color": "#2ea043"},
         "encoding": {
           "x": {"datum": 118.1, "type": "quantitative", "scale": {"domain": [-25.5, 261.8]}, "axis": null},
           "y": {"datum": 0.0216, "type": "quantitative", "scale": {"domain": [-0.01727, 0.0282]}, "axis": null},
           "text": {"field": "t"}
         }},
        {"data": {"values": [{"t": "↓", "m": 79.8}, {"t": "↓", "m": 114.3}, {"t": "↓", "m": 160.2}]}, "mark": {"type": "text", "fontSize": 11, "fontWeight": "bold", "color": "#3a8fd0", "font": "DejaVu Sans"},
         "encoding": {
           "x": {"field": "m", "type": "quantitative", "scale": {"domain": [-25.5, 261.8]}, "axis": null},
           "y": {"datum": 0.0212, "type": "quantitative", "scale": {"domain": [-0.01727, 0.0282]}, "axis": null},
           "text": {"field": "t"}
         }},
        {"data": {"values": [{"t": "1OHuang.CN"}]}, "mark": {"type": "text", "fontSize": 21, "color": "#ff0a3c"},
         "encoding": {
           "x": {"datum": 40.1, "type": "quantitative", "scale": {"domain": [-25.5, 261.8]}, "axis": null},
           "y": {"datum": -0.0026, "type": "quantitative", "scale": {"domain": [-0.01727, 0.0282]}, "axis": null},
           "text": {"field": "t"}
         }}
      ]
    },
    {
      "width": 620, "height": 38,
      "layer": [
        {"data": {"values": [{"t": "MACDFS"}]}, "mark": {"type": "rect", "fill": "#c41414", "cornerRadius": 2},
         "encoding": {
           "x": {"datum": -24.1, "type": "quantitative", "scale": {"domain": [-25.5, 261.8]}, "axis": null}, "x2": {"datum": 5.1},
           "y": {"datum": 0.6, "type": "quantitative", "scale": {"domain": [0.513, 2.462], "reverse": true}, "axis": null}, "y2": {"datum": 1.4}
         }},
        {"data": {"values": [{"t": "KDJFS"}]}, "mark": {"type": "rect", "fill": "#b8b8b8", "cornerRadius": 2},
         "encoding": {
           "x": {"datum": 6.0, "type": "quantitative", "scale": {"domain": [-25.5, 261.8]}, "axis": null}, "x2": {"datum": 28.3},
           "y": {"datum": 0.6, "type": "quantitative", "scale": {"domain": [0.513, 2.462], "reverse": true}, "axis": null}, "y2": {"datum": 1.4}
         }},
        {"data": {"values": [{"t": "RSIFS"}]}, "mark": {"type": "rect", "fill": "#b8b8b8", "cornerRadius": 2},
         "encoding": {
           "x": {"datum": 28.8, "type": "quantitative", "scale": {"domain": [-25.5, 261.8]}, "axis": null}, "x2": {"datum": 49.1},
           "y": {"datum": 0.6, "type": "quantitative", "scale": {"domain": [0.513, 2.462], "reverse": true}, "axis": null}, "y2": {"datum": 1.4}
         }},
        {"data": {"values": [{"t": "BOLLFS"}]}, "mark": {"type": "rect", "fill": "#b8b8b8", "cornerRadius": 2},
         "encoding": {
           "x": {"datum": 49.6, "type": "quantitative", "scale": {"domain": [-25.5, 261.8]}, "axis": null}, "x2": {"datum": 79.2},
           "y": {"datum": 0.6, "type": "quantitative", "scale": {"domain": [0.513, 2.462], "reverse": true}, "axis": null}, "y2": {"datum": 1.4}
         }},
        {"data": {"values": [{"t": "分时量"}]}, "mark": {"type": "rect", "fill": "#b8b8b8", "cornerRadius": 2},
         "encoding": {
           "x": {"datum": -24.6, "type": "quantitative", "scale": {"domain": [-25.5, 261.8]}, "axis": null}, "x2": {"datum": -2.3},
           "y": {"datum": 1.6, "type": "quantitative", "scale": {"domain": [0.513, 2.462], "reverse": true}, "axis": null}, "y2": {"datum": 2.4}
         }},
        {"data": {"values": [{"t": "指标"}]}, "mark": {"type": "rect", "fill": "#c41414", "cornerRadius": 2},
         "encoding": {
           "x": {"datum": -1.4, "type": "quantitative", "scale": {"domain": [-25.5, 261.8]}, "axis": null}, "x2": {"datum": 18.5},
           "y": {"datum": 1.6, "type": "quantitative", "scale": {"domain": [0.513, 2.462], "reverse": true}, "axis": null}, "y2": {"datum": 2.4}
         }},
        {"data": {"values": [{"t": "MACDFS", "m": -9.5}]}, "mark": {"type": "text", "fontSize": 13, "color": "#ffd8d8"},
         "encoding": {
           "x": {"field": "m", "type": "quantitative", "scale": {"domain": [-25.5, 261.8]}, "axis": null},
           "y": {"datum": 1.0, "type": "quantitative", "scale": {"domain": [0.513, 2.462], "reverse": true}, "axis": null},
           "text": {"field": "t"}
         }},
        {"data": {"values": [{"t": "KDJFS", "m": 17.1}, {"t": "RSIFS", "m": 38.9}, {"t": "BOLLFS", "m": 64.4}]}, "mark": {"type": "text", "fontSize": 13, "color": "#2e3e2e"},
         "encoding": {
           "x": {"field": "m", "type": "quantitative", "scale": {"domain": [-25.5, 261.8]}, "axis": null},
           "y": {"datum": 1.0, "type": "quantitative", "scale": {"domain": [0.513, 2.462], "reverse": true}, "axis": null},
           "text": {"field": "t"}
         }},
        {"data": {"values": [{"t": "分时量", "m": -13.4}]}, "mark": {"type": "text", "fontSize": 13, "color": "#2e3e2e", "font": "Noto Sans CJK SC"},
         "encoding": {
           "x": {"field": "m", "type": "quantitative", "scale": {"domain": [-25.5, 261.8]}, "axis": null},
           "y": {"datum": 2.0, "type": "quantitative", "scale": {"domain": [0.513, 2.462], "reverse": true}, "axis": null},
           "text": {"field": "t"}
         }},
        {"data": {"values": [{"t": "指标", "m": 8.5}]}, "mark": {"type": "text", "fontSize": 13, "color": "#ffe0e0", "font": "Noto Sans CJK SC"},
         "encoding": {
           "x": {"field": "m", "type": "quantitative", "scale": {"domain": [-25.5, 261.8]}, "axis": null},
           "y": {"datum": 2.0, "type": "quantitative", "scale": {"domain": [0.513, 2.462], "reverse": true}, "axis": null},
           "text": {"field": "t"}
         }},
        {"data": {"values": [{"t": "logo"}]}, "mark": {"type": "rect", "fill": "#ffffff"},
         "encoding": {
           "x": {"datum": 214.5, "type": "quantitative", "scale": {"domain": [-25.5, 261.8]}, "axis": null}, "x2": {"datum": 253.9},
           "y": {"datum": -0.103, "type": "quantitative", "scale": {"domain": [0.513, 2.462], "reverse": true}, "axis": null}, "y2": {"datum": 2.36}
         }},
        {"data": {"values": [{"t": "10"}]}, "mark": {"type": "text", "fontSize": 40, "fontWeight": "bold", "fontStyle": "italic", "color": "#e0102a", "stroke": "#ffffff", "strokeWidth": 1.5},
         "encoding": {
           "x": {"datum": 203.4, "type": "quantitative", "scale": {"domain": [-25.5, 261.8]}, "axis": null},
           "y": {"datum": 0.87, "type": "quantitative", "scale": {"domain": [0.513, 2.462], "reverse": true}, "axis": null},
           "text": {"field": "t"}
         }},
        {"data": {"values": [{"t": "拾荒网"}]}, "mark": {"type": "text", "fontSize": 22, "fontWeight": "bold", "color": "#111111", "font": "Noto Sans CJK SC"},
         "encoding": {
           "x": {"datum": 235.4, "type": "quantitative", "scale": {"domain": [-25.5, 261.8]}, "axis": null},
           "y": {"datum": 0.615, "type": "quantitative", "scale": {"domain": [0.513, 2.462], "reverse": true}, "axis": null},
           "text": {"field": "t"}
         }},
        {"data": {"values": [{"t": "Huang.CN"}]}, "mark": {"type": "text", "align": "left", "fontSize": 19, "fontWeight": "bold", "color": "#e0102a"},
         "encoding": {
           "x": {"datum": 214.0, "type": "quantitative", "scale": {"domain": [-25.5, 261.8]}, "axis": null},
           "y": {"datum": 1.77, "type": "quantitative", "scale": {"domain": [0.513, 2.462], "reverse": true}, "axis": null},
           "text": {"field": "t"}
         }}
      ]
    }
  ]
}
